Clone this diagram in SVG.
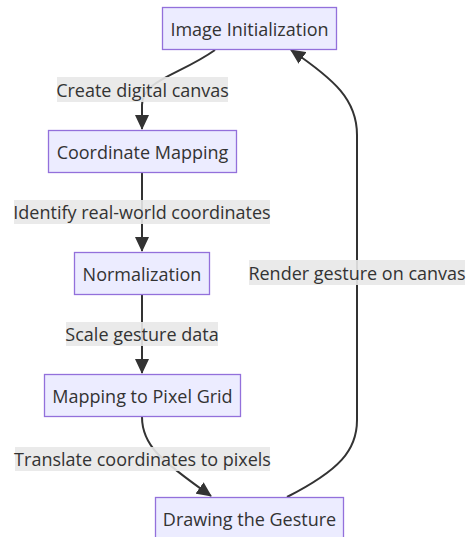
<svg xmlns="http://www.w3.org/2000/svg" width="471" height="537" viewBox="0 0 471 537">
<style>
.node rect{fill:#ECECFF;stroke:#9370DB;stroke-width:1.3}
text{font-family:"Open Sans","Liberation Sans",sans-serif;font-size:18px;fill:#333;text-anchor:middle;dominant-baseline:central}
.edge{fill:none;stroke:#333;stroke-width:2}
.lbl rect{fill:#e8e8e8;opacity:0.9}
</style>
<defs>
<marker id="arr" viewBox="0 0 15 14" refX="14" refY="7" markerWidth="15" markerHeight="14" markerUnits="userSpaceOnUse" orient="auto">
<path d="M0,0 L15,7 L0,14 z" fill="#333"/>
</marker>
</defs>
<rect width="471" height="537" fill="#fff"/>
<g id="edges">
<path class="edge" d="M215,50 C180,75 142,80 142,105 L142,129" marker-end="url(#arr)"/>
<path class="edge" d="M142,172 L142,251" marker-end="url(#arr)"/>
<path class="edge" d="M142,294 L142,373" marker-end="url(#arr)"/>
<path class="edge" d="M142,417 C142,445 160,460 211,496" marker-end="url(#arr)"/>
<path class="edge" d="M287,497 C340,470 357,450 357,420 L357,135 C357,100 335,80 291,50" marker-end="url(#arr)"/>
</g>
<g id="edge-labels">
<g class="lbl"><rect x="57" y="77" width="171" height="25"/><text x="142.5" y="89.5">Create digital canvas</text></g>
<g class="lbl"><rect x="14" y="200" width="256" height="24"/><text x="142" y="212">Identify real-world coordinates</text></g>
<g class="lbl"><rect x="66" y="322" width="152" height="24"/><text x="142" y="334">Scale gesture data</text></g>
<g class="lbl"><rect x="15" y="447" width="255" height="24"/><text x="142.5" y="459">Translate coordinates to pixels</text></g>
<g class="lbl"><rect x="249" y="260" width="216" height="25"/><text x="357" y="272.5">Render gesture on canvas</text></g>
</g>
<g id="n1" class="node"><rect x="162.5" y="7.5" width="174" height="42"/><text x="249.5" y="28.5">Image Initialization</text></g>
<g id="n2" class="node"><rect x="48.5" y="130.5" width="188" height="42"/><text x="142.5" y="151.5">Coordinate Mapping</text></g>
<g id="n3" class="node"><rect x="74.5" y="252.5" width="135" height="42"/><text x="142" y="273.5">Normalization</text></g>
<g id="n4" class="node"><rect x="44.5" y="374.5" width="196" height="42"/><text x="142.5" y="395.5">Mapping to Pixel Grid</text></g>
<g id="n5" class="node"><rect x="155.5" y="497.5" width="188" height="42"/><text x="249.5" y="518.5">Drawing the Gesture</text></g>
</svg>
